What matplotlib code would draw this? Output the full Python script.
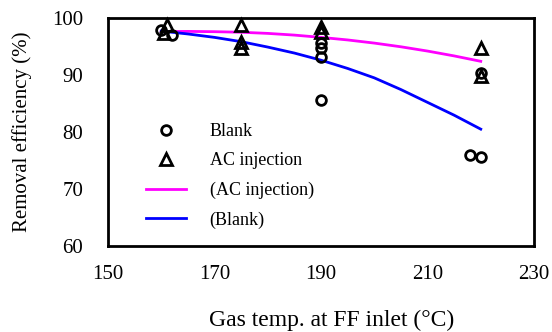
import matplotlib
matplotlib.use("Agg")
import matplotlib.pyplot as plt
import numpy as np

plt.rcParams['font.family'] = ['Liberation Serif', 'DejaVu Serif']

blank_x = [160, 162, 190, 190, 190, 190, 218, 220, 220]
blank_y = [97.9, 97.0, 95.6, 94.7, 93.1, 85.7, 76.0, 75.6, 90.3]
ac_x = [161, 160.5, 175, 175, 175, 190, 190, 220, 220]
ac_y = [98.8, 97.4, 98.8, 95.8, 94.8, 98.4, 97.6, 94.7, 89.9]

fit_x = [160, 165, 170, 175, 180, 185, 190, 195, 200, 205, 210, 215, 220]
fit_ac = [97.6, 97.65, 97.6, 97.5, 97.3, 97.0, 96.6, 96.15, 95.6, 94.95, 94.2, 93.35, 92.4]
fit_blank = [97.7, 97.2, 96.6, 95.85, 94.9, 93.85, 92.6, 91.15, 89.5, 87.45, 85.2, 82.95, 80.5]

fig = plt.figure(figsize=(5.52, 3.32), dpi=100)
ax = fig.add_axes([108/552, 1-246/332, 426/552, 228/332])

l_ac, = ax.plot(fit_x, fit_ac, color='#FF00FF', lw=2, label='(AC injection)')
l_bl, = ax.plot(fit_x, fit_blank, color='#0000FF', lw=2, label='(Blank)')
m_bl, = ax.plot(blank_x, blank_y, 'o', ms=7, mfc='none', mec='black', mew=2, label='Blank', clip_on=False)
m_ac, = ax.plot(ac_x, ac_y, '^', ms=8, mfc='none', mec='black', mew=2, label='AC injection', clip_on=False)

ax.set_xlim(150, 230)
ax.set_ylim(60, 100)
ax.set_xticks([150, 170, 190, 210, 230])
ax.set_yticks([60, 70, 80, 90, 100])
ax.tick_params(length=0, labelsize=15)
ax.tick_params(axis='y', pad=18)
ax.tick_params(axis='x', pad=14)
for s in ax.spines.values():
    s.set_linewidth(2)
ax.set_xlabel('Gas temp. at FF inlet (°C)', fontsize=17, labelpad=18, x=0.526)
ax.set_ylabel('Removal efficiency (%)', fontsize=15, labelpad=14)

leg = ax.legend(handles=[m_bl, m_ac, l_ac, l_bl], loc='upper left',
                bbox_to_anchor=(0.052, 0.61), frameon=False, fontsize=13,
                handlelength=2.2, handletextpad=1.3, labelspacing=0.68)

fig.savefig('out.png', dpi=100)
